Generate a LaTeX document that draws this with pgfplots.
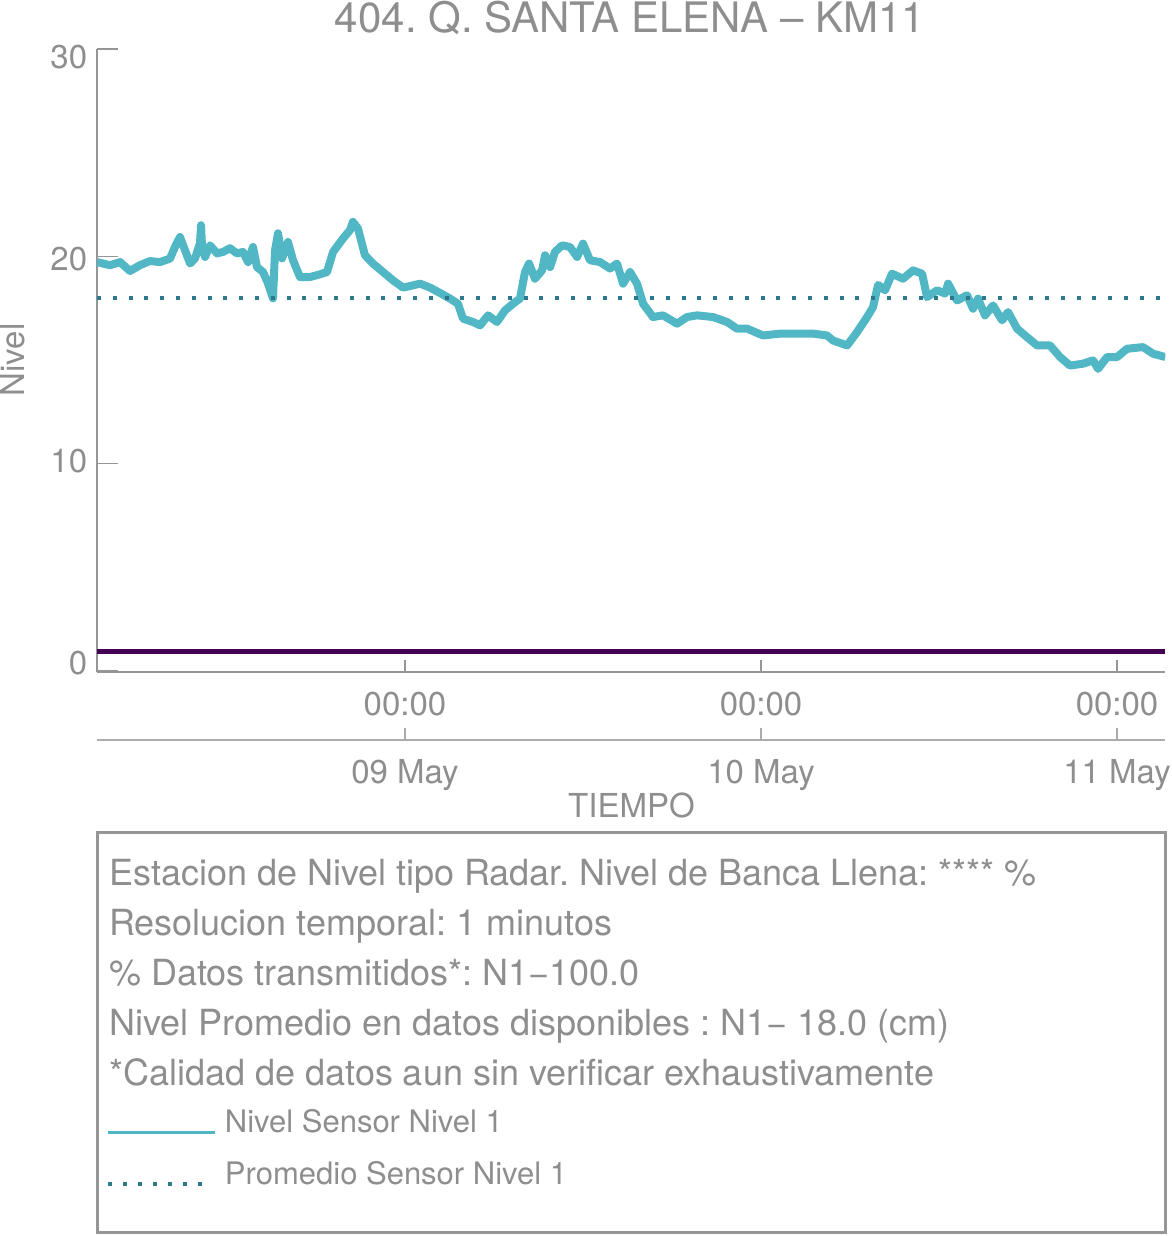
\documentclass[border=0pt]{standalone}
\usepackage{fontspec}
\setmainfont{TeX Gyre Heros}
\usepackage{pgfplots}
\usepackage{pgfplotstable}
\pgfplotsset{compat=1.18}

\definecolor{lineteal}{RGB}{82,183,196}
\definecolor{dotteal}{RGB}{46,120,142}
\definecolor{barpurple}{HTML}{440154}
\definecolor{axgray}{RGB}{150,150,150}
\definecolor{axgraylt}{RGB}{172,172,172}
\definecolor{txtgray}{RGB}{142,142,142}
\newcommand\fs[1]{\fontsize{#1bp}{#1bp}\selectfont}
\pgfplotsset{
  longleg/.style={legend image code/.code={\draw[##1] (0bp,-11bp) -- (107bp,-11bp);}},
  shortleg/.style={legend image code/.code={\draw[##1] (0bp,-11bp) -- (94bp,-11bp); \path (107bp,-11bp);}},
}

% hours since 08 May 00:00, level
\pgfplotstableread{
h v
3.24 19.72
4.11 19.57
4.79 19.72
5.46 19.29
6.13 19.57
6.81 19.77
7.48 19.72
8.16 19.89
8.49 20.45
8.83 20.93
9.17 20.29
9.51 19.65
9.84 19.89
10.18 20.63
10.25 21.50
10.32 20.40
10.52 19.97
10.85 20.53
11.33 20.14
11.73 20.21
12.20 20.39
12.67 20.14
13.08 20.21
13.42 19.72
13.75 20.45
14.02 19.48
14.43 19.24
14.76 18.70
15.10 17.97
15.24 20.29
15.44 21.11
15.71 19.90
16.11 20.69
16.45 19.81
16.92 19.00
17.60 19.00
18.27 19.13
18.74 19.24
19.15 20.21
19.82 20.86
20.29 21.26
20.49 21.66
20.83 21.34
21.30 20.05
21.84 19.65
22.52 19.24
23.19 18.84
23.87 18.49
24.54 18.60
25.01 18.68
25.69 18.49
26.36 18.23
27.03 17.96
27.57 17.71
27.91 16.99
28.58 16.83
29.06 16.67
29.60 17.15
30.20 16.83
30.74 17.39
31.28 17.71
31.75 17.96
32.09 19.24
32.36 19.65
32.76 18.92
33.24 19.32
33.44 20.05
33.78 19.48
34.11 20.21
34.59 20.53
35.12 20.45
35.60 19.97
36.00 20.61
36.47 19.81
37.15 19.72
37.82 19.41
38.29 19.65
38.70 18.68
39.17 19.24
39.64 18.68
40.05 17.71
40.72 17.07
41.39 17.15
42.34 16.75
43.01 17.07
43.69 17.15
44.77 17.07
45.71 16.83
46.38 16.51
47.06 16.51
48.14 16.18
49.28 16.27
50.43 16.27
51.51 16.27
52.45 16.18
52.85 15.94
53.80 15.70
54.47 16.34
55.15 17.07
55.55 17.55
55.89 18.62
56.36 18.36
56.83 19.16
57.57 18.92
58.25 19.32
58.86 19.16
59.19 18.03
59.87 18.36
60.41 18.20
60.61 18.68
61.21 17.87
61.89 18.12
62.29 17.47
62.63 17.96
63.10 17.15
63.64 17.63
64.25 16.91
64.65 17.31
65.26 16.51
65.93 16.10
66.61 15.70
67.48 15.70
68.16 15.14
68.83 14.73
69.71 14.82
70.38 14.98
70.72 14.57
71.33 15.14
72.00 15.14
72.68 15.54
73.75 15.62
74.43 15.30
75.26 15.14
}\nivel

\begin{document}
\frenchspacing
\begin{tikzpicture}
\path[use as bounding box] (0,0) rectangle (1172bp,1236bp);

% main axis
\begin{axis}[
  at={(97bp,564bp)}, anchor=south west,
  scale only axis, width=1068.3bp, height=623bp,
  xmin=3.236, xmax=75.256, ymin=-0.053, ymax=30,
  axis x line=bottom, axis y line=left,
  axis line style={-, draw=axgray, line width=1.3bp},
  tick align=inside,
  tick style={draw=axgray, line width=1.3bp},
  xtick style={/pgfplots/major tick length=12bp},
  ytick style={/pgfplots/major tick length=21bp},
  xtick={24,48,72}, xticklabels={00:00,00:00,00:00},
  ytick={0,10,20,30},
  /pgf/number format/assume math mode=true,
  ticklabel style={font=\fs{33}, text=txtgray, inner sep=0pt},
  xticklabel style={anchor=north, yshift=-20bp},
  yticklabel style={anchor=east, xshift=-9.7bp, yshift=8bp-5.5bp*\ticknum},
  longleg,
  legend style={at={(axis description cs:0.0084,-0.703)}, anchor=north west,
    draw=none, fill=none, inner sep=0pt, outer sep=0pt,
    /tikz/column sep=8bp, /tikz/row sep=27bp,
    nodes={inner sep=0pt, text height=23bp, text depth=0pt, font=\fs{31}, text=txtgray},
    cells={anchor=base west}},
  legend cell align=left,
]
\addplot[forget plot, color=barpurple, line width=5bp] coordinates {(3.236,0.92) (75.256,0.92)};
\addplot[forget plot, color=lineteal, line width=8bp, line join=round] table[x=h, y=v] {\nivel};
\addplot[forget plot, color=dotteal, line width=4bp, dash pattern=on 4bp off 11.8bp] coordinates {(3.236,18.0) (75.256,18.0)};
\addlegendimage{color=lineteal, line width=3.5bp}
\addlegendentry{Nivel Sensor Nivel 1}
\addlegendimage{color=dotteal, line width=4bp, dash pattern=on 4bp off 11bp, shortleg}
\addlegendentry{Promedio Sensor Nivel 1}
\end{axis}

% date axis
\begin{axis}[
  at={(97bp,496bp)}, anchor=south west,
  scale only axis, width=1068.3bp, height=10bp,
  xmin=3.236, xmax=75.256, ymin=0, ymax=1,
  axis x line=bottom, axis y line=none,
  axis line style={-, draw=axgraylt, line width=1.8bp},
  tick align=inside, major tick length=12bp,
  tick style={draw=axgraylt, line width=1.3bp},
  xtick={24,48,72}, xticklabels={09 May,10 May,11 May},
  ytick=\empty,
  ticklabel style={font=\fs{33}, text=txtgray, inner sep=0pt},
  xticklabel style={anchor=north, yshift=-19bp},
]
\end{axis}

% titles and labels
\node[anchor=base, font=\fs{42}, text=txtgray, inner sep=0pt] at (630bp,1203.7bp) {404. Q. SANTA ELENA -- KM11};
\node[anchor=base, rotate=90, font=\fs{33}, text=txtgray, inner sep=0pt] at (24bp,876bp) {Nivel};
\node[anchor=base, font=\fs{33}, text=txtgray, inner sep=0pt] at (631.5bp,418bp) {TIEMPO};

% info box
\draw[draw=axgray, line width=3bp] (97bp,3bp) rectangle (1165bp,403bp);
\begin{scope}[every node/.style={anchor=base west, font=\fs{36}, text=txtgray, inner sep=0pt}]
\node at (109bp,350bp) {Estacion de Nivel tipo Radar. Nivel de Banca Llena: **** \%};
\node at (109bp,300bp) {Resolucion temporal: 1 minutos};
\node at (109bp,250bp) {\% Datos transmitidos*: N1−100.0};
\node at (109bp,200bp) {Nivel Promedio en datos disponibles : N1− 18.0 (cm)};
\node at (109bp,150bp) {*Calidad de datos aun sin verificar exhaustivamente};
\end{scope}
\end{tikzpicture}
\end{document}
